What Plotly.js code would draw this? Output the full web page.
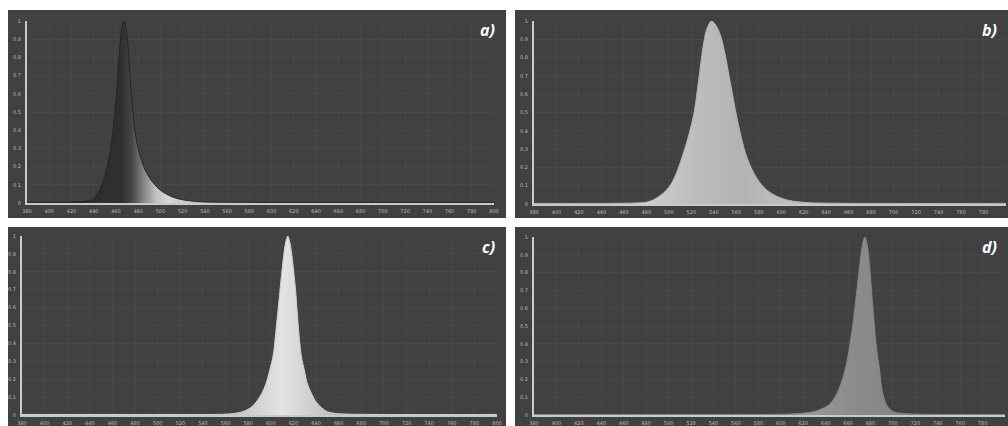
<!DOCTYPE html>
<html>
<head>
<meta charset="utf-8">
<script src="https://cdn.plot.ly/plotly-3.0.1.min.js"></script>
<style>html,body{margin:0;padding:0;background:#fff;}#chart{width:1008px;height:426px;}</style>
</head>
<body>
<div id="chart"></div>
<script>
// ---- data ----
const panelLabels = ["a)", "b)", "c)", "d)"];
const xTickVals = [380,400,420,440,460,480,500,520,540,560,580,600,620,640,660,680,700,720,740,760,780,800];
const yTickVals = [0,0.1,0.2,0.3,0.4,0.5,0.6,0.7,0.8,0.9,1];

const wavelengthA = [380,400,420,430,435,440,445,450,455,459,463,465,467,469,471,474,477,480,485,490,495,500,510,520,530,540,560,600,700,800];
const intensityA  = [0.002,0.003,0.005,0.008,0.012,0.025,0.07,0.15,0.29,0.5,0.82,0.95,1.0,0.96,0.85,0.58,0.4,0.3,0.2,0.14,0.1,0.07,0.035,0.018,0.01,0.006,0.004,0.003,0.003,0.003];

const wavelengthB = [380,420,460,475,480,486,492,498,503,508,512,516,520,523,527,531,534,538,542,546,550,553,556,559,562,565,568,572,576,580,587,595,605,615,625,650,700,800];
const intensityB  = [0.003,0.003,0.004,0.007,0.01,0.022,0.045,0.077,0.12,0.19,0.26,0.34,0.43,0.52,0.7,0.88,0.96,1.0,0.975,0.92,0.82,0.72,0.62,0.52,0.43,0.35,0.28,0.215,0.165,0.125,0.077,0.045,0.022,0.012,0.007,0.004,0.003,0.003];

const wavelengthC = [380,450,520,557,567,575,582,587,592,596,599,602,605,608,611,613,615,617,619,622,624,627,630,632,636,640,645,650,657,667,700,800];
const intensityC  = [0.003,0.003,0.003,0.004,0.008,0.018,0.04,0.072,0.12,0.18,0.25,0.33,0.5,0.69,0.87,0.96,1.0,0.96,0.87,0.69,0.52,0.33,0.24,0.18,0.12,0.073,0.04,0.018,0.009,0.005,0.003,0.003];

const wavelengthD = [380,450,550,600,610,620,630,640,645,650,655,659,663,667,671,673,675,677,679,682,685,688,691,695,700,710,730,800];
const intensityD  = [0.003,0.003,0.003,0.004,0.006,0.01,0.02,0.045,0.07,0.12,0.2,0.3,0.45,0.65,0.87,0.96,1.0,0.96,0.85,0.62,0.4,0.26,0.12,0.05,0.02,0.008,0.004,0.003];

// ---- layout geometry (pixels) ----
const W = 1008, H = 426;
const panels = [
  {bg:[8,10,506,218],  plot:[27,21,494,203]},
  {bg:[515,10,1008,218], plot:[534,21,1006,204]},
  {bg:[8,227,506,426], plot:[22,236,497,415]},
  {bg:[515,227,1008,426], plot:[534,237,1005,415]}
];
const px = v => v / W;
const py = v => 1 - v / H;

const series = [
  {x: wavelengthA, y: intensityA, line:'#262626',
   grad:{type:'horizontal', start:430, stop:540, colorscale:[[0,'#2e2e2e'],[0.32,'#2f2f2f'],[0.4,'#454545'],[0.5,'#858585'],[0.6,'#c0c0c0'],[0.7,'#d6d6d6'],[1,'#b5b5b5']]}},
  {x: wavelengthB, y: intensityB, line:'#b2b2b2',
   grad:{type:'horizontal', start:480, stop:620, colorscale:[[0,'#cfcfcf'],[0.3,'#bdbdbd'],[0.6,'#b3b3b3'],[1,'#c2c2c2']]}},
  {x: wavelengthC, y: intensityC, line:'#cfcfcf',
   grad:{type:'horizontal', start:572, stop:657, colorscale:[[0,'#c6c6c6'],[0.45,'#e3e3e3'],[0.7,'#d2d2d2'],[1,'#bdbdbd']]}},
  {x: wavelengthD, y: intensityD, line:'#858585',
   grad:{type:'horizontal', start:620, stop:705, colorscale:[[0,'#9a9a9a'],[0.5,'#8c8c8c'],[1,'#858585']]}}
];

const data = [];
const layout = {
  width: W, height: H,
  margin: {l:0, r:0, t:0, b:0},
  paper_bgcolor: '#ffffff',
  plot_bgcolor: 'rgba(0,0,0,0)',
  showlegend: false,
  shapes: [],
  annotations: []
};

panels.forEach((p, i) => {
  const k = i === 0 ? '' : String(i + 1);
  data.push({
    type: 'scatter', mode: 'lines',
    x: series[i].x, y: series[i].y,
    xaxis: 'x' + k, yaxis: 'y' + k,
    line: {color: series[i].line, width: 1, shape: 'spline', smoothing: 1},
    fill: 'tozeroy',
    fillgradient: series[i].grad,
    hoverinfo: 'skip'
  });
  const axisCommon = {
    showline: true, linecolor: '#c9c9c9', linewidth: 2, mirror: false,
    zeroline: false, showgrid: true, gridcolor: 'rgba(255,255,255,0.035)', gridwidth: 1,
    ticks: '', tickfont: {family: 'DejaVu Sans', size: 5, color: '#bdbdbd'},
    fixedrange: true
  };
  layout['xaxis' + k] = Object.assign({}, axisCommon, {
    domain: [px(p.plot[0]), px(p.plot[2])],
    range: [380, 800],
    tickmode: 'array', tickvals: xTickVals,
    anchor: 'y' + k, ticklabelstandoff: 2
  });
  layout['yaxis' + k] = Object.assign({}, axisCommon, {
    domain: [py(p.plot[3]), py(p.plot[1])],
    range: [0, 1],
    tickmode: 'array', tickvals: yTickVals,
    anchor: 'x' + k, ticklabelstandoff: 3
  });
  layout.shapes.push({
    type: 'rect', xref: 'paper', yref: 'paper', layer: 'below',
    x0: px(p.bg[0]), x1: px(p.bg[2]), y0: py(p.bg[3]), y1: py(p.bg[1]),
    fillcolor: '#414141', line: {width: 0}
  });
  layout.annotations.push({
    xref: 'paper', yref: 'paper',
    x: px(p.bg[2] - 9), y: py(p.bg[1] + 7),
    xanchor: 'right', yanchor: 'top',
    text: '<b><i>' + panelLabels[i] + '</i></b>',
    showarrow: false,
    font: {family: 'Open Sans', size: 16, color: '#ffffff'}
  });
});

Plotly.newPlot('chart', data, layout, {displayModeBar: false, staticPlot: true});
</script>
</body>
</html>
